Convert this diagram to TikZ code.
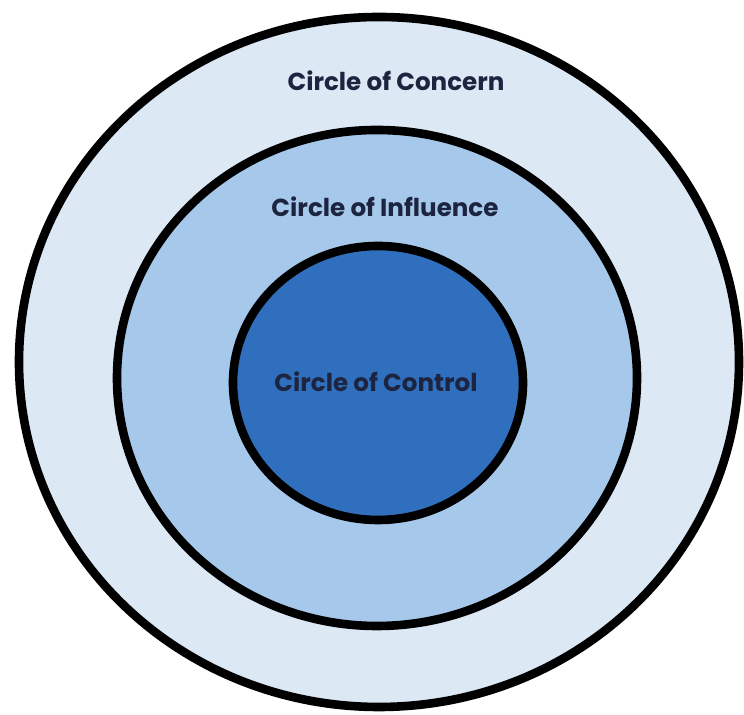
\documentclass[tikz,border=0pt]{standalone}
\usepackage{fontspec}
\setmainfont{Poppins}
\definecolor{concernfill}{HTML}{DDE8F5}
\definecolor{influencefill}{HTML}{A6C8EA}
\definecolor{controlfill}{HTML}{2F6FBD}
\definecolor{labeltext}{HTML}{1C2440}
\begin{document}
\begin{tikzpicture}[x=0.02cm, y=0.02cm,
    ring/.style={draw=black, line width=4.9pt},
    ringlabel/.style={font=\bfseries\fontsize{14}{16}\selectfont, text=labeltext, inner sep=0pt}]
    \useasboundingbox[fill=white] (0,0) rectangle (744,715);
    % Circle of Concern
    \draw[ring, fill=concernfill] (379,353) ellipse [x radius=360, y radius=345];
    \node[ringlabel] (concern) at (396,634) {Circle of Concern};

    % Circle of Influence
    \draw[ring, fill=influencefill] (377,337) ellipse [x radius=260, y radius=248];
    \node[ringlabel] (influence) at (385,508) {Circle of Influence};

    % Circle of Control
    \draw[ring, fill=controlfill] (378,332) ellipse [x radius=145, y radius=137];
    \node[ringlabel] (control) at (376,333) {Circle of Control};
\end{tikzpicture}
\end{document}
